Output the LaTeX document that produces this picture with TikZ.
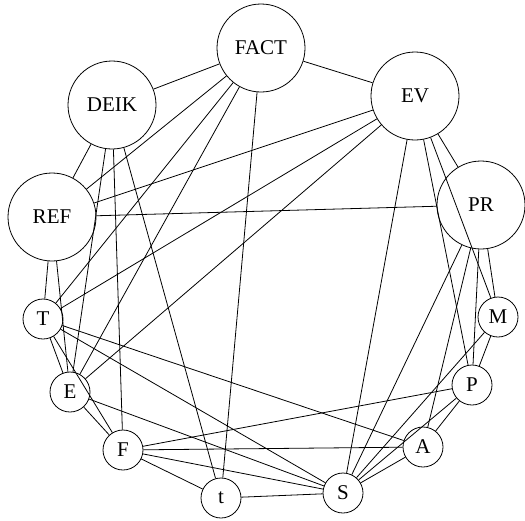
\documentclass[tikz,border=0pt]{standalone}
\usepackage{fontspec}
\setmainfont{Liberation Serif}
\usepackage{tikz}
\tikzset{
  bignode/.style={circle,draw=black,line width=0.8pt,minimum size=88pt,inner sep=0pt,font=\fontsize{21}{25}\selectfont},
  smallnode/.style={circle,draw=black,line width=0.8pt,minimum size=40pt,inner sep=0pt,font=\fontsize{21}{25}\selectfont}
}
\begin{document}
\begin{tikzpicture}[x=1pt,y=-1pt,line width=0.8pt]
			\useasboundingbox (0,0) rectangle (525,520);
			\node [bignode] (FACT) at (261,48) {FACT};
			\node [bignode] (DEIK) at (112,105) {DEIK};
			\node [bignode] (EV) at (415,96) {EV};
			\node [bignode] (REF) at (52,217) {REF};
			\node [bignode] (PR) at (481,205) {PR};
			\node [smallnode] (T) at (43,319) {T};
			\node [smallnode] (M) at (498,317) {M};
			\node [smallnode] (E) at (70,392) {E};
			\node [smallnode] (P) at (472,385) {P};
			\node [smallnode] (F) at (123,450) {F};
			\node [smallnode] (A) at (423,447) {A};
			\node [smallnode] (t) at (221,498) {t};
			\node [smallnode] (S) at (343,493) {S};
			\draw [color=black] (FACT)-- (DEIK);
			\draw [color=black] (FACT)-- (EV);
			\draw [color=black] (FACT)-- (REF);
			\draw [color=black] (FACT)-- (T);
			\draw [color=black] (FACT)-- (E);
			\draw [color=black] (FACT)-- (t);
			\draw [color=black] (DEIK)-- (REF);
			\draw [color=black] (DEIK)-- (E);
			\draw [color=black] (DEIK)-- (F);
			\draw [color=black] (DEIK)-- (t);
			\draw [color=black] (EV)-- (PR);
			\draw [color=black] (EV)-- (REF);
			\draw [color=black] (EV)-- (T);
			\draw [color=black] (EV)-- (E);
			\draw [color=black] (EV)-- (S);
			\draw [color=black] (EV)-- (P);
			\draw [color=black] (EV)-- (M);
			\draw [color=black] (PR)-- (REF);
			\draw [color=black] (PR)-- (M);
			\draw [color=black] (PR)-- (P);
			\draw [color=black] (PR)-- (A);
			\draw [color=black] (PR)-- (S);
			\draw [color=black] (REF)-- (T);
			\draw [color=black] (REF)-- (E);
			\draw [color=black] (T)-- (E);
			\draw [color=black] (T)-- (F);
			\draw [color=black] (T)-- (A);
			\draw [color=black] (T)-- (S);
			\draw [color=black] (M)-- (P);
			\draw [color=black] (M)-- (S);
			\draw [color=black] (E)-- (F);
			\draw [color=black] (E)-- (S);
			\draw [color=black] (P)-- (A);
			\draw [color=black] (P)-- (F);
			\draw [color=black] (P)-- (S);
			\draw [color=black] (F)-- (A);
			\draw [color=black] (F)-- (S);
			\draw [color=black] (F)-- (t);
			\draw [color=black] (A)-- (S);
			\draw [color=black] (t)-- (S);
			\end{tikzpicture}
\end{document}
